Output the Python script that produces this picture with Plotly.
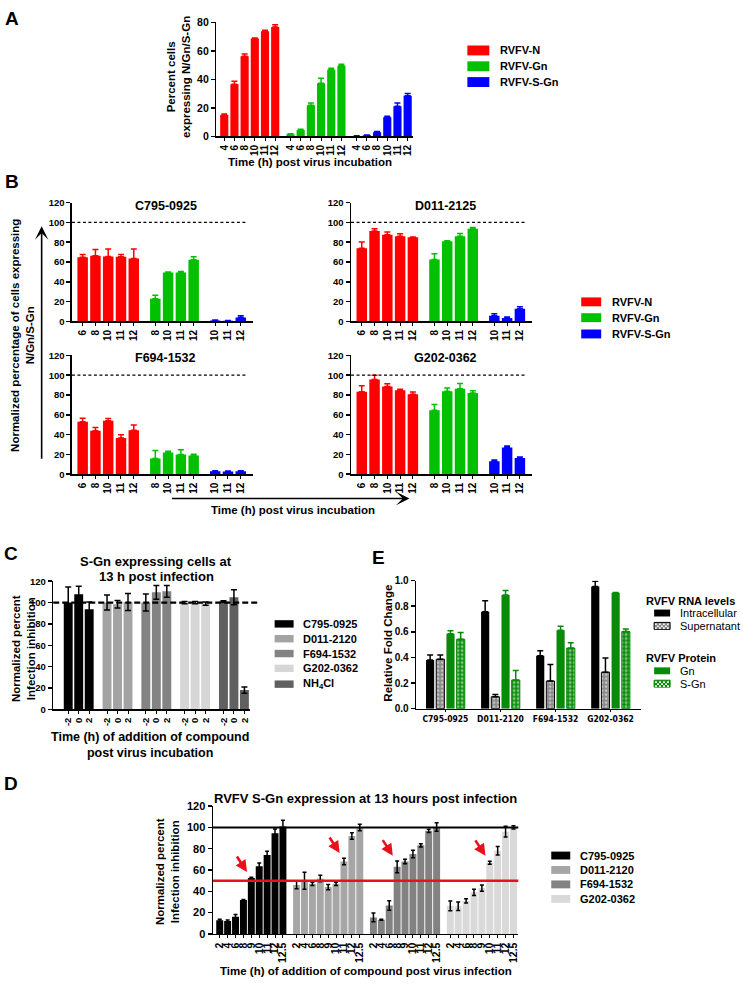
import plotly.graph_objects as go

W, H = 743, 987
FONT = "Liberation Sans, Arial, Helvetica, sans-serif"
NARROW = "Liberation Sans Narrow, DejaVu Sans Condensed, Liberation Sans, sans-serif"


def fx(p):
    return p / W


def fy(p):
    return 1 - p / H


# ============================ DATA ============================
# Panel A
a_series = ["RVFV-N", "RVFV-Gn", "RVFV-S-Gn"]
a_times = ["4", "6", "8", "10", "11", "12"]
a_N = [15.0, 36.7, 56.3, 68.7, 73.8, 76.8]
a_N_err = [0.8, 2.0, 1.6, 0.5, 0.8, 1.6]
a_Gn = [1.5, 4.5, 21.9, 37.3, 46.8, 49.6]
a_Gn_err = [0.3, 0.5, 1.6, 3.5, 1.0, 1.0]
a_SGn = [0.3, 0.8, 3.0, 13.4, 21.2, 28.6]
a_SGn_err = [0.1, 0.2, 0.5, 0.7, 2.3, 1.6]

# Panel B
b_compounds = ["C795-0925", "D011-2125", "F694-1532", "G202-0362"]
b_N_times = ["6", "8", "10", "11", "12"]
b_Gn_times = ["8", "10", "11", "12"]
b_SGn_times = ["10", "11", "12"]
b_N = [[64.8, 66.3, 65.5, 65.2, 63.5], [73.8, 91.2, 87.6, 85.9, 84.9],
       [53.0, 44.0, 54.0, 36.5, 44.5], [83.3, 95.7, 88.7, 84.7, 80.7]]
b_N_err = [[2.7, 6.3, 7.5, 2.3, 9.5], [6.5, 2.5, 2.7, 2.7, 0.3],
           [3.5, 3.3, 2.3, 3.3, 5.3], [6.0, 4.3, 2.7, 1.0, 2.3]]
b_Gn = [[23.0, 49.3, 49.3, 62.3], [62.4, 81.0, 86.0, 93.5],
        [16.0, 22.0, 20.0, 19.0], [64.7, 83.7, 86.3, 82.0]]
b_Gn_err = [[3.3, 0.5, 1.0, 3.0], [6.0, 0.5, 2.7, 1.3],
            [8.0, 1.3, 4.7, 1.3], [5.7, 3.3, 5.3, 2.2]]
b_SGn = [[1.0, 0.6, 4.0], [5.7, 3.5, 12.8], [3.0, 2.7, 3.0], [13.0, 27.0, 16.5]]
b_SGn_err = [[0.4, 0.3, 1.8], [2.0, 1.0, 2.0], [0.5, 0.5, 0.6], [1.5, 1.5, 1.0]]
b_reference = 100

# Panel C
c_groups = ["C795-0925", "D011-2120", "F694-1532", "G202-0362", "NH<sub>4</sub>Cl"]
c_times = ["-2", "0", "2"]
c_values = [[100.0, 107.7, 93.8], [100.0, 98.5, 100.5], [100.0, 109.6, 110.5],
            [100.0, 100.0, 99.0], [101.0, 105.0, 18.0]]
c_err = [[14.5, 7.7, 6.8], [7.0, 3.5, 8.0], [8.0, 6.5, 5.5], [1.0, 1.0, 1.5], [0.8, 7.0, 3.0]]
c_reference = 100

# Panel E
e_compounds = ["C795-0925", "D011-2120", "F694-1532", "G202-0362"]
e_rna_series = ["Intracellular", "Supernatant"]
e_protein_series = ["Gn", "S-Gn"]
e_intra = [0.380, 0.756, 0.414, 0.954]
e_intra_err = [0.040, 0.087, 0.038, 0.041]
e_super = [0.386, 0.093, 0.216, 0.285]
e_super_err = [0.034, 0.017, 0.128, 0.111]
e_gn = [0.586, 0.887, 0.612, 0.905]
e_gn_err = [0.023, 0.036, 0.031, 0.003]
e_sgn = [0.542, 0.224, 0.473, 0.602]
e_sgn_err = [0.052, 0.074, 0.041, 0.020]

# Panel D
d_groups = ["C795-0925", "D011-2120", "F694-1532", "G202-0362"]
d_times = ["2", "4", "6", "8", "9", "10", "11", "12", "12.5"]
d_values = [[12.7, 12.1, 16.1, 31.9, 52.6, 63.5, 74.2, 94.6, 100.8],
            [46.0, 50.0, 47.0, 52.0, 44.0, 47.0, 68.0, 92.0, 100.0],
            [15.5, 13.3, 26.6, 63.0, 68.0, 75.0, 83.2, 96.8, 100.5],
            [26.3, 26.0, 31.0, 39.0, 43.0, 66.8, 78.0, 96.0, 100.0]]
d_err = [[1.0, 1.0, 2.0, 0.5, 0.5, 3.0, 3.5, 4.0, 6.0],
         [3.5, 8.0, 1.5, 3.0, 2.5, 1.5, 3.0, 3.0, 3.0],
         [4.0, 0.5, 4.5, 5.5, 2.0, 3.5, 1.5, 1.5, 4.0],
         [4.5, 4.0, 2.0, 3.0, 3.0, 1.5, 4.0, 5.0, 1.5]]
d_arrow_times = ["9", "11", "8", "10"]
d_full_line = 100
d_half_line = 50

# ============================ STYLE ============================
RED, GRN, BLU = "#ff0000", "#00c000", "#0000ff"
EGRN = "#0a8a0a"
EGRAY = "#8a8a8a"
C_COLORS = ["#000000", "#a3a3a3", "#838383", "#d6d6d6", "#606060"]
D_COLORS = ["#000000", "#a6a6a6", "#828282", "#d9d9d9"]

fig = go.Figure()
axes = {}
shapes = []
annos = []

AX = dict(showline=True, linecolor="black", linewidth=1.5, showgrid=False, zeroline=False,
          fixedrange=True, ticks="outside", tickcolor="black")


def set_axes(k, xpx, ypx, xrange, xtv, xtt, xangle, xfs, yrange, ytv, yfs, yticktext=None,
             xfamily=FONT, xticklen=3):
    s = "" if k == 1 else str(k)
    axes["xaxis" + s] = dict(AX, domain=[fx(xpx[0]), fx(xpx[1])], range=xrange, anchor="y" + s,
                             tickmode="array", tickvals=xtv, ticktext=xtt, tickangle=xangle,
                             ticklen=xticklen, tickwidth=1,
                             tickfont=dict(family=xfamily, size=xfs, color="black", weight="bold"))
    ya = dict(AX, domain=[fy(ypx[1]), fy(ypx[0])], range=yrange, anchor="x" + s,
              tickmode="array", tickvals=ytv, ticklen=4, tickwidth=1.5,
              tickfont=dict(family=FONT, size=yfs, color="black", weight="bold"))
    if yticktext is not None:
        ya["ticktext"] = yticktext
    axes["yaxis" + s] = ya
    return "x" + s, "y" + s


def add_bars(xa, ya, xs, ys, errs, color, width, err_color=None, symmetric=False,
             marker_extra=None, cap=3):
    err = dict(type="data", array=errs, color=err_color or color, thickness=1.5, width=cap,
               visible=True)
    if symmetric:
        err["symmetric"] = True
    else:
        err["symmetric"] = False
        err["arrayminus"] = [0] * len(errs)
    marker = dict(color=color, line=dict(width=0))
    if marker_extra:
        marker.update(marker_extra)
    fig.add_trace(go.Bar(x=xs, y=ys, width=width, marker=marker, error_y=err, xaxis=xa,
                         yaxis=ya, showlegend=False, hoverinfo="skip"))


def text(x, y, s, size, bold=True, angle=0, xanchor="center", yanchor="middle", family=FONT):
    annos.append(dict(x=fx(x), y=fy(y), xref="paper", yref="paper", text=s, showarrow=False,
                      textangle=angle, xanchor=xanchor, yanchor=yanchor, borderpad=0,
                      font=dict(family=family, size=size, color="black",
                                weight="bold" if bold else "normal")))


def swatch(x0, x1, yc, h, color, line=None):
    shapes.append(dict(type="rect", xref="paper", yref="paper", x0=fx(x0), x1=fx(x1),
                       y0=fy(yc + h / 2), y1=fy(yc - h / 2), fillcolor=color,
                       line=line or dict(width=0)))


def dots(x0, x1, yc, h, cell, dot, color):
    path = ""
    y0 = yc - h / 2
    row = 0
    yy = y0 + 1
    while yy + dot <= yc + h / 2:
        xx = x0 + 1 + (cell / 2 if row % 2 else 0)
        while xx + dot <= x1:
            path += "M%.5f,%.5f H%.5f V%.5f H%.5f Z " % (fx(xx), fy(yy), fx(xx + dot),
                                                          fy(yy + dot), fx(xx))
            xx += cell
        yy += cell / 2
        row += 1
    shapes.append(dict(type="path", xref="paper", yref="paper", path=path, fillcolor=color,
                       line=dict(width=0)))


# ============================ PANEL A ============================
A_STEP = 6.5
a_vals = [a_N, a_Gn, a_SGn]
a_errs = [a_N_err, a_Gn_err, a_SGn_err]
a_cols = [RED, GRN, BLU]
a_pos = [[g * A_STEP + i for i in range(len(a_times))] for g in range(3)]
xa, ya = set_axes(1, (216.7, 413.3), (16.7, 132), [-0.77, 18.5],
                  sum(a_pos, []), a_times * 3, -90, 10,
                  [0, 80], [0, 20, 40, 60, 80], 10.5)
for g in range(3):
    add_bars(xa, ya, a_pos[g], a_vals[g], a_errs[g], a_cols[g], 0.8)

text(12, 13, "A", 19)
text(178, 72, "Percent cells<br>expressing N/Gn/S-Gn", 11.5, angle=-90)
text(310, 158, "Time (h) post virus incubation", 11.5)
for i, (lab, col) in enumerate(zip(a_series, a_cols)):
    yc = [45, 61, 77][i]
    swatch(468, 490, yc, 10, col)
    text(500, yc, lab, 11, xanchor="left")

# ============================ PANEL B ============================
B_GAP = 0.685
b_starts = [0, len(b_N_times) + B_GAP, len(b_N_times) + len(b_Gn_times) + 2 * B_GAP]
b_pos = [[b_starts[0] + i for i in range(len(b_N_times))],
         [b_starts[1] + i for i in range(len(b_Gn_times))],
         [b_starts[2] + i for i in range(len(b_SGn_times))]]
b_tv = sum(b_pos, [])
b_tt = b_N_times + b_Gn_times + b_SGn_times
b_boxes = [((72, 253), (199, 319.3)), ((351.5, 532.5), (199, 319.3)),
           ((72, 253), (353.7, 474)), ((351.5, 532.5), (353.7, 474))]
b_title_pos = [(166, 202), (446, 202), (166, 356.5), (446, 356.5)]
for c in range(4):
    xpx, ypx = b_boxes[c]
    xa, ya = set_axes(2 + c, xpx, ypx, [-0.84, 13.3], b_tv, b_tt, -90, 10,
                      [0, 120], [0, 20, 40, 60, 80, 100, 120], 9.5)
    add_bars(xa, ya, b_pos[0], b_N[c], b_N_err[c], RED, 0.82)
    add_bars(xa, ya, b_pos[1], b_Gn[c], b_Gn_err[c], GRN, 0.82)
    add_bars(xa, ya, b_pos[2], b_SGn[c], b_SGn_err[c], BLU, 0.82)
    shapes.append(dict(type="line", xref=xa + " domain", yref=ya, x0=0, x1=0.972,
                       y0=b_reference, y1=b_reference,
                       line=dict(color="black", width=1.2, dash="3px,2.5px")))
    text(b_title_pos[c][0], b_title_pos[c][1], b_compounds[c], 12.5)

text(12, 178, "B", 19)
text(23, 333, "Normalized percentage of cells expressing<br>N/Gn/S-Gn", 11.5, angle=-90)
text(293, 510, "Time (h) post virus incubation", 11.5)
annos.append(dict(x=fx(41.7), y=fy(223), xref="paper", yref="paper", text="", showarrow=True,
                  ax=0, ay=234, axref="pixel", ayref="pixel", arrowhead=3, arrowsize=1.4,
                  arrowwidth=1.6, arrowcolor="black", standoff=0))
annos.append(dict(x=fx(410), y=fy(498.5), xref="paper", yref="paper", text="", showarrow=True,
                  ax=-239, ay=0, axref="pixel", ayref="pixel", arrowhead=3, arrowsize=1.4,
                  arrowwidth=1.6, arrowcolor="black", standoff=0))
for i, (lab, col) in enumerate(zip(a_series, a_cols)):
    yc = [299.5, 315.5, 332][i]
    swatch(582, 602, yc, 9, col)
    text(611.5, yc, lab, 11, xanchor="left")

# ============================ PANEL C ============================
C_STEP = 3.7
c_pos = [[g * C_STEP + i for i in range(len(c_times))] for g in range(len(c_groups))]
xa, ya = set_axes(6, (53.3, 250), (582.3, 712), [-1.43, 17.3], sum(c_pos, []),
                  c_times * len(c_groups), -90, 9.5,
                  [0, 120], [0, 20, 40, 60, 80, 100, 120], 9.5)
for g in range(len(c_groups)):
    add_bars(xa, ya, c_pos[g], c_values[g], c_err[g], C_COLORS[g], 0.85, err_color="black",
             symmetric=True, cap=3)
shapes.append(dict(type="line", xref="paper", yref=ya, x0=fx(53.3), x1=fx(259),
                   y0=c_reference, y1=c_reference,
                   line=dict(color="black", width=2.2, dash="6px,3px")))
text(11, 554, "C", 19)
text(156.5, 562, "S-Gn expressing cells at", 13)
text(156.5, 577.5, "13 h post infection", 13)
text(23, 650, "Normalized percent<br>Infection inhibition", 11.5, angle=-90)
text(150, 748.5, "Time (h) of addition of compound<br>post virus incubation", 12.5)
for i, (lab, col) in enumerate(zip(c_groups, C_COLORS)):
    yc = [625.5, 640.5, 655.5, 670.5, 686.5][i]
    swatch(275, 294, yc, 7.5, col)
    text(302.5, yc, lab, 11, xanchor="left")

# ============================ PANEL E ============================
E_STEP = 5.4
e_base = [g * E_STEP for g in range(len(e_compounds))]
xa, ya = set_axes(7, (416.7, 642), (581.7, 711.3), [-1.37, 20.7], [b + 1.5 for b in e_base],
                  e_compounds, 0, 8.5, [0, 1.0], [0, 0.2, 0.4, 0.6, 0.8, 1.0], 10,
                  yticktext=["0.0", "0.2", "0.4", "0.6", "0.8", "1.0"], xfamily=NARROW,
                  xticklen=2)
super_pat = dict(line=dict(color="black", width=1),
                 pattern=dict(shape=".", fgcolor="white", bgcolor=EGRAY, size=4, solidity=0.35))
sgn_pat = dict(line=dict(color=EGRN, width=1),
               pattern=dict(shape=".", fgcolor="white", bgcolor=EGRN, size=4, solidity=0.4))
add_bars(xa, ya, [b + 0 for b in e_base], e_intra, e_intra_err, "black", 0.8)
add_bars(xa, ya, [b + 1 for b in e_base], e_super, e_super_err, EGRAY, 0.8, err_color="black",
         marker_extra=super_pat)
add_bars(xa, ya, [b + 2 for b in e_base], e_gn, e_gn_err, EGRN, 0.8)
add_bars(xa, ya, [b + 3 for b in e_base], e_sgn, e_sgn_err, EGRN, 0.8, marker_extra=sgn_pat)
text(379, 558, "E", 19)
text(389, 645, "Relative Fold Change", 11.5, angle=-90)
text(646, 602, "RVFV RNA levels", 11, xanchor="left")
text(646, 660, "RVFV Protein", 11, xanchor="left")
# legend rows
swatch(655, 671, 614.5, 7, "black")
text(680, 614.5, e_rna_series[0], 11, bold=False, xanchor="left")
swatch(655, 671, 627.5, 7, EGRAY, line=dict(color="black", width=1))
dots(655, 671, 627.5, 7, 4, 1.6, "white")
text(680, 627.5, e_rna_series[1], 11, bold=False, xanchor="left")
swatch(655, 671, 673, 7, EGRN)
text(680, 673, e_protein_series[0], 11, bold=False, xanchor="left")
swatch(655, 671, 686, 7, EGRN, line=dict(color=EGRN, width=1))
dots(655, 671, 686, 7, 4, 1.8, "white")
text(680, 686, e_protein_series[1], 11, bold=False, xanchor="left")

# ============================ PANEL D ============================
D_STEP = 9.73
d_pos = [[g * D_STEP + i for i in range(len(d_times))] for g in range(len(d_groups))]
xa, ya = set_axes(8, (213.3, 519), (810, 939.3), [-0.85, 37.8], sum(d_pos, []),
                  d_times * len(d_groups), -90, 10.5,
                  [0, 120], [0, 20, 40, 60, 80, 100, 120], 11)
for g in range(len(d_groups)):
    add_bars(xa, ya, d_pos[g], d_values[g], d_err[g], D_COLORS[g], 0.88, err_color="black",
             symmetric=True, cap=2)
shapes.append(dict(type="line", xref=xa + " domain", yref=ya, x0=0, x1=1, y0=d_full_line,
                   y1=d_full_line, line=dict(color="black", width=2)))
shapes.append(dict(type="line", xref=xa + " domain", yref=ya, x0=0, x1=1, y0=d_half_line,
                   y1=d_half_line, line=dict(color="#e8101a", width=2.5)))
for g, t in enumerate(d_arrow_times):
    i = d_times.index(t)
    annos.append(dict(x=d_pos[g][i] - 0.55, y=d_values[g][i] + d_err[g][i] + 5, xref=xa,
                      yref=ya, text="", showarrow=True, ax=-11, ay=-17, axref="pixel",
                      ayref="pixel", arrowhead=2, arrowsize=0.9, arrowwidth=2.6,
                      arrowcolor="#e8101a", standoff=0))
text(11, 787, "D", 19)
text(366, 802, "RVFV S-Gn expression at 13 hours post infection", 13)
text(168, 876, "Normalized percent<br>Infection inhibition", 11.5, angle=-90)
text(366, 977, "Time (h) of addition of compound post virus infection", 11.5)
for i, (lab, col) in enumerate(zip(d_groups, D_COLORS)):
    yc = [860, 874.6, 889.2, 903.9][i]
    swatch(552, 571, yc, 8, col)
    text(580, yc, lab, 11, xanchor="left")

fig.update_layout(
    width=W, height=H, autosize=False,
    margin=dict(l=0, r=0, t=0, b=0),
    paper_bgcolor="white", plot_bgcolor="rgba(0,0,0,0)",
    showlegend=False, barmode="overlay",
    font=dict(family=FONT, color="black"),
    shapes=shapes, annotations=annos,
    **axes,
)

fig.write_html("out.html", config={"displayModeBar": False, "staticPlot": True},
               post_script="document.body.style.margin='0';document.body.style.padding='0';"
                           "document.body.style.overflow='hidden';")
